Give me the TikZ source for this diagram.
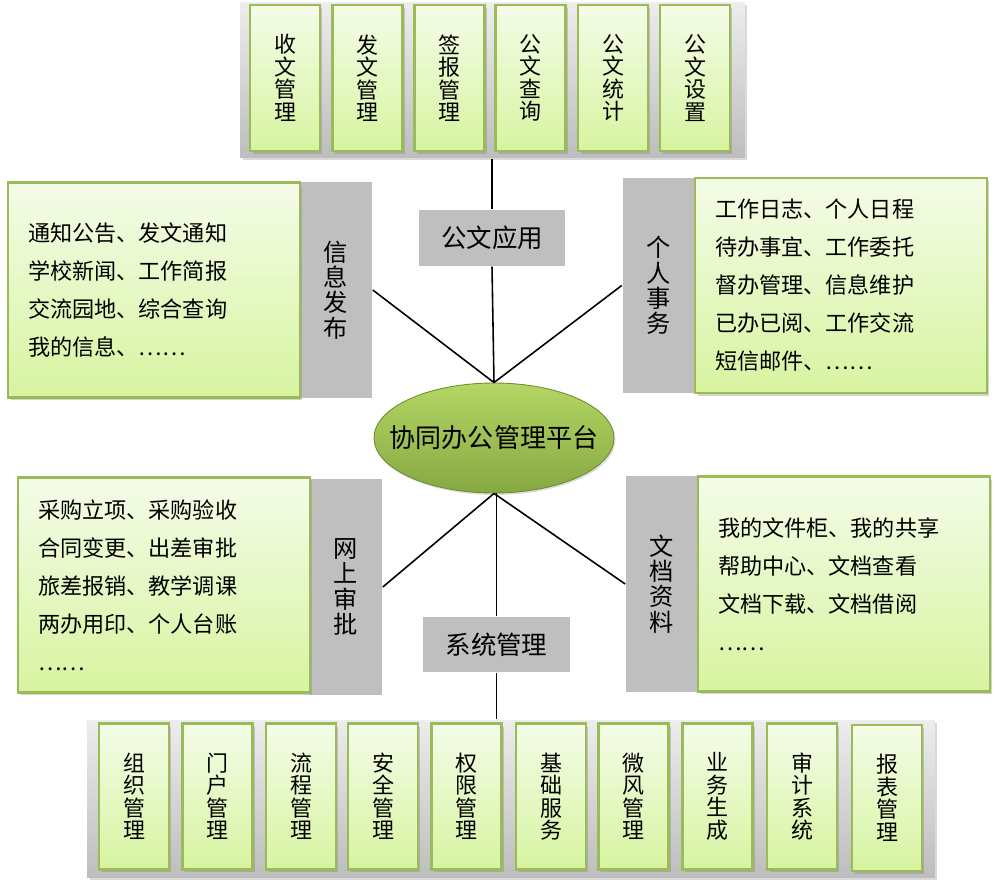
\documentclass[tikz,border=0pt]{standalone}
\usepackage{fontspec}
\setmainfont{Noto Sans CJK SC}
\usetikzlibrary{shapes.geometric,shadows}

\definecolor{boxedge}{HTML}{9BBB59}
\definecolor{boxtop}{HTML}{F4FCE8}
\definecolor{boxbottom}{HTML}{D7F4A0}
\definecolor{tabgray}{HTML}{BFBFBF}
\definecolor{panellight}{HTML}{EDEDED}
\definecolor{paneldark}{HTML}{BDBDBD}
\definecolor{hubtop}{HTML}{B4D665}
\definecolor{hubmid}{HTML}{A0C450}
\definecolor{hubbottom}{HTML}{86A842}
\definecolor{hubedge}{HTML}{6F8C34}

\begin{document}
\begin{tikzpicture}[x = 0.02cm, y = -0.02cm, line width = 0.9pt,
                      panel/.style = {rectangle, top color = panellight, bottom color = paneldark, inner sep = 0pt,
                                      drop shadow = {opacity = 0.3, shadow xshift = 0.05cm, shadow yshift = -0.05cm}},
                      item/.style = {rectangle, draw = boxedge, line width = 1.3pt, top color = boxtop, bottom color = boxbottom,
                                     minimum width = 1.4cm, minimum height = 2.92cm, inner sep = 0pt, align = center,
                                     font = \fontsize{12.5}{12.8}\selectfont,
                                     drop shadow = {opacity = 0.35, shadow xshift = 0.05cm, shadow yshift = -0.06cm}},
                      note/.style = {rectangle, draw = boxedge, line width = 1.3pt, top color = boxtop, bottom color = boxbottom,
                                     text width = 5.04cm, inner xsep = 0.4cm, inner ysep = 0pt, minimum height = 4.3cm, align = left,
                                     font = \fontsize{12.6}{21.6}\selectfont,
                                     drop shadow = {opacity = 0.35, shadow xshift = 0.05cm, shadow yshift = -0.06cm}},
                      tab/.style = {rectangle, fill = tabgray, inner sep = 0pt, align = center,
                                    minimum width = 1.44cm, minimum height = 4.32cm, font = \fontsize{13.8}{14.4}\selectfont},
                      widetab/.style = {tab, minimum width = 2.93cm, minimum height = 1.11cm, font = \fontsize{14.5}{16}\selectfont},
                      hub/.style = {ellipse, draw = hubedge, line width = 0.5pt, top color = hubtop, middle color = hubmid,
                                    bottom color = hubbottom, minimum width = 4.8cm, minimum height = 2.2cm, inner sep = 0pt,
                                    drop shadow = {opacity = 0.25, shadow xshift = 0.03cm, shadow yshift = -0.04cm}}]
    \useasboundingbox (0, 0) rectangle (995, 883);

    % top row
    \node [panel, minimum width = 10.1cm, minimum height = 3.12cm] (toppanel) at (492.5, 80){};
    \node [item] (g1) at (285, 78){收\\文\\管\\理};
    \node [item] (g2) at (367.5, 78){发\\文\\管\\理};
    \node [item] (g3) at (449.5, 78){签\\报\\管\\理};
    \node [item] (g4) at (530.5, 78){公\\文\\查\\询};
    \node [item] (g5) at (613, 78){公\\文\\统\\计};
    \node [item] (g6) at (695, 78){公\\文\\设\\置};

    % bottom row
    \node [panel, minimum width = 16.96cm, minimum height = 3.16cm] (botpanel) at (511, 799){};
    \node [item] (x1) at (134, 796.5){组\\织\\管\\理};
    \node [item] (x2) at (217.5, 796.5){门\\户\\管\\理};
    \node [item] (x3) at (301, 796.5){流\\程\\管\\理};
    \node [item] (x4) at (383, 796.5){安\\全\\管\\理};
    \node [item] (x5) at (466.5, 796.5){权\\限\\管\\理};
    \node [item] (x6) at (551, 796.5){基\\础\\服\\务};
    \node [item] (x7) at (633.5, 796.5){微\\风\\管\\理};
    \node [item] (x8) at (717.5, 796.5){业\\务\\生\\成};
    \node [item] (x9) at (802, 796.5){审\\计\\系\\统};
    \node [item] (x10) at (887, 798){报\\表\\管\\理};

    % side groups
    \node [widetab] (gongwen) at (492, 238){公文应用};
    \node [widetab] (xitong) at (496.5, 644.5){系统管理};
    \node [tab] (xinxi) at (336, 290){信\\息\\发\\布};
    \node [tab] (geren) at (658.5, 285.5){个\\人\\事\\务};
    \node [tab] (wangshang) at (346, 587){网\\上\\审\\批};
    \node [tab] (wendang) at (662, 584){文\\档\\资\\料};

    \node [note] (xinxinote) at (154, 290){通知公告、发文通知\\学校新闻、工作简报\\交流园地、综合查询\\我的信息、……};
    \node [note] (gerennote) at (841, 285.5){工作日志、个人日程\\待办事宜、工作委托\\督办管理、信息维护\\已办已阅、工作交流\\短信邮件、……};
    \node [note] (wangshangnote) at (164, 585){采购立项、采购验收\\合同变更、出差审批\\旅差报销、教学调课\\两办用印、个人台账\\……};
    \node [note] (wendangnote) at (844, 584){我的文件柜、我的共享\\帮助中心、文档查看\\文档下载、文档借阅\\……};

    \node [hub, label = {[font = \fontsize{14.8}{16}\selectfont]center:协同办公管理平台}] (hub) at (494, 438){};

    \draw (gongwen.north) -- (gongwen.north |- toppanel.south);
    \draw (gongwen.south) -- (hub.north);
    \draw (xinxi.east) -- (hub.north);
    \draw (geren.west) -- (hub.north);
    \draw (wangshang.east) -- (hub.south);
    \draw (wendang.west) -- (hub.south);
    \draw (xitong.north) -- (xitong.north |- hub.south);
    \draw (xitong.south) -- (xitong.south |- botpanel.north);
\end{tikzpicture}
\end{document}
